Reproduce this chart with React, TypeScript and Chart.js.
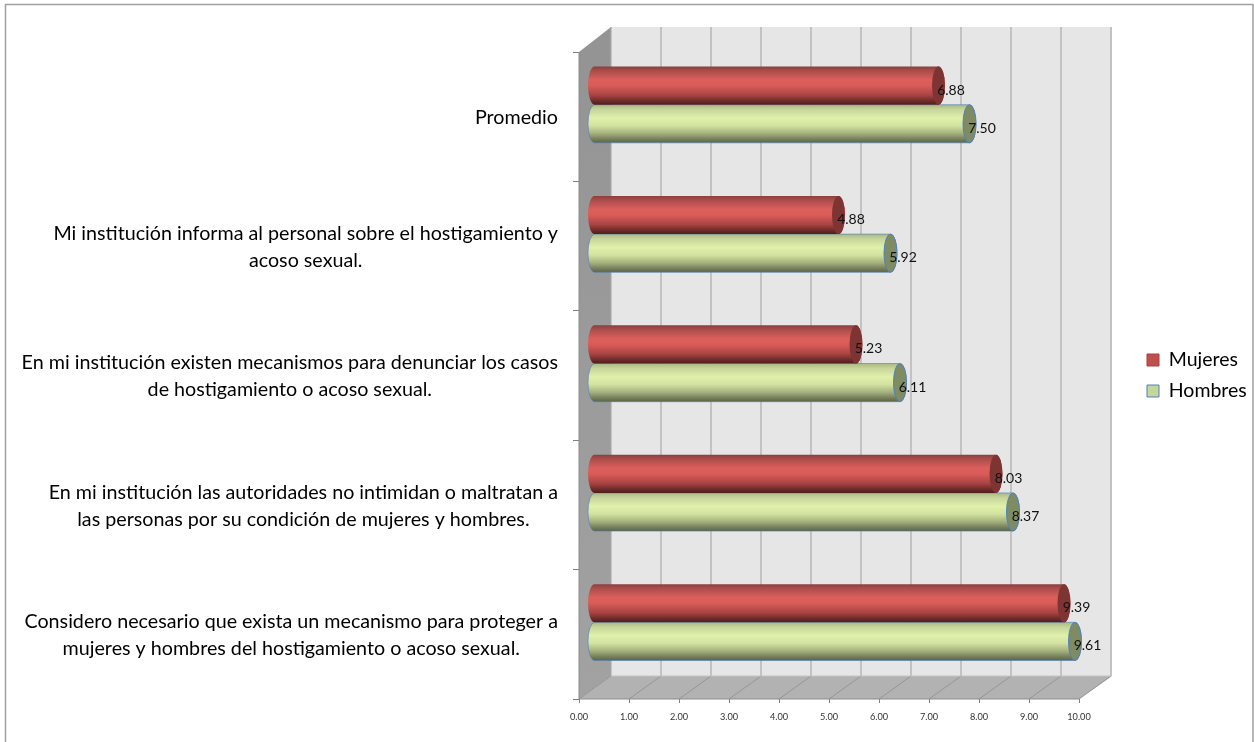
import React, { useEffect, useRef } from "react";
import { Chart, registerables, BarController, BarElement } from "chart.js";

const categories = [
  "Promedio",
  "Mi institución informa al personal sobre el hostigamiento y acoso sexual.",
  "En mi institución existen mecanismos para denunciar los casos de hostigamiento o acoso sexual.",
  "En mi institución las autoridades no intimidan o maltratan a las personas por su condición de mujeres y hombres.",
  "Considero necesario que exista un mecanismo para proteger a mujeres y hombres del hostigamiento o acoso sexual.",
];
const categoryLines = [
  ["Promedio"],
  ["Mi institución informa al personal sobre el hostigamiento y", "acoso sexual."],
  ["En mi institución existen mecanismos para denunciar los casos", "de hostigamiento o acoso sexual."],
  ["En mi institución las autoridades no intimidan o maltratan a", "las personas por su condición de mujeres y hombres."],
  ["Considero necesario que exista un mecanismo para proteger a", "mujeres y hombres del hostigamiento o acoso sexual."],
];
const mujeres = [6.88, 4.88, 5.23, 8.03, 9.39];
const hombres = [7.5, 5.92, 6.11, 8.37, 9.61];
const xTicks = [0, 10];

const FONT = "Lato, Carlito, sans-serif";
const DEPTH_X = 32;
const DEPTH_TOP = 25;
const DEPTH_BOTTOM = 23;
const MID_X = 15.5;
const MID_Y = 12;
const CAP_RX = 6.5;

const RED_STOPS: [number, string][] = [
  [0, "#8a3f3d"], [0.1, "#a84c4a"], [0.35, "#dc5f5c"], [0.5, "#d95c59"],
  [0.75, "#a84442"], [0.9, "#6e2b2a"], [1, "#4f1e1d"],
];
const GREEN_STOPS: [number, string][] = [
  [0, "#a9b783"], [0.12, "#c6d49a"], [0.35, "#e0f1ab"], [0.55, "#d2e2a0"],
  [0.75, "#a5b27e"], [0.9, "#76805c"], [1, "#5a6546"],
];

class CylinderBar extends BarElement {
  static id = "cylinderBar";
  draw(ctx: CanvasRenderingContext2D) {
    const { x, y, base, height } = (this as any).getProps(["x", "y", "base", "height"]);
    const isRed = (this as any).options.backgroundColor === "#c0504d";
    const stops = isRed ? RED_STOPS : GREEN_STOPS;
    const cy = y - MID_Y;
    const top = cy - height / 2;
    const bottom = cy + height / 2;
    const x0 = base + MID_X - 0.5;
    const x1 = x + MID_X;
    const g = ctx.createLinearGradient(0, top, 0, bottom);
    stops.forEach(([o, c]) => g.addColorStop(o, c));
    ctx.save();
    ctx.beginPath();
    ctx.moveTo(x0, top);
    ctx.lineTo(x1, top);
    ctx.ellipse(x1, cy, CAP_RX, height / 2, 0, -Math.PI / 2, Math.PI / 2);
    ctx.lineTo(x0, bottom);
    ctx.ellipse(x0, cy, CAP_RX, height / 2, 0, Math.PI / 2, (3 * Math.PI) / 2);
    ctx.closePath();
    ctx.fillStyle = g;
    ctx.fill();
    if (!isRed) {
      ctx.strokeStyle = "rgba(79,129,189,0.6)";
      ctx.lineWidth = 1;
      ctx.stroke();
    }
    ctx.beginPath();
    ctx.ellipse(x1, cy, CAP_RX, height / 2, 0, 0, Math.PI * 2);
    ctx.fillStyle = isRed ? "#7e3432" : "#7f8b63";
    ctx.fill();
    if (!isRed) {
      ctx.strokeStyle = "#4f81bd";
      ctx.lineWidth = 1;
      ctx.stroke();
    }
    ctx.restore();
  }
}

class CylinderController extends BarController {
  static id = "cylinder";
  static defaults = { dataElementType: "cylinderBar" };
}

Chart.register(...registerables, CylinderBar as any, CylinderController as any);

const scene = {
  id: "scene",
  beforeDraw(chart: any) {
    const { ctx, width, height } = chart;
    ctx.save();
    ctx.fillStyle = "#ffffff";
    ctx.fillRect(0, 0, width, height);
    ctx.strokeStyle = "#a0a0a0";
    ctx.lineWidth = 1.5;
    ctx.beginPath();
    ctx.moveTo(5.5, height);
    ctx.lineTo(5.5, 4.5);
    ctx.lineTo(1253, 4.5);
    ctx.lineTo(1253, height);
    ctx.stroke();
    ctx.restore();
  },
  beforeDatasetsDraw(chart: any) {
    const { ctx, chartArea, scales } = chart;
    const { left, right, top, bottom } = chartArea;
    const sx = scales.x;
    ctx.save();
    // back wall
    ctx.fillStyle = "#e6e6e6";
    ctx.fillRect(left + DEPTH_X, top - DEPTH_TOP, right - left + 1, bottom - top + DEPTH_TOP - DEPTH_BOTTOM);
    // left wall
    ctx.beginPath();
    ctx.moveTo(left, top);
    ctx.lineTo(left + DEPTH_X, top - DEPTH_TOP);
    ctx.lineTo(left + DEPTH_X, bottom - DEPTH_BOTTOM);
    ctx.lineTo(left, bottom);
    ctx.closePath();
    const wall = ctx.createLinearGradient(0, top, 0, bottom);
    wall.addColorStop(0, "#949494");
    wall.addColorStop(1, "#a2a2a2");
    ctx.fillStyle = wall;
    ctx.fill();
    // floor
    ctx.beginPath();
    ctx.moveTo(left, bottom);
    ctx.lineTo(left + DEPTH_X, bottom - DEPTH_BOTTOM);
    ctx.lineTo(right + DEPTH_X + 1, bottom - DEPTH_BOTTOM);
    ctx.lineTo(right, bottom);
    ctx.closePath();
    ctx.fillStyle = "#b2b2b2";
    ctx.fill();
    // grid on back wall and floor
    sx.ticks.forEach((t: any) => {
      const px = sx.getPixelForValue(t.value);
      ctx.lineWidth = 1;
      ctx.strokeStyle = "#969696";
      ctx.beginPath();
      ctx.moveTo(px, bottom);
      ctx.lineTo(px + DEPTH_X, bottom - DEPTH_BOTTOM);
      ctx.stroke();
      ctx.lineWidth = 1.2;
      ctx.strokeStyle = "#ababab";
      ctx.beginPath();
      ctx.moveTo(px + DEPTH_X, bottom - DEPTH_BOTTOM);
      ctx.lineTo(px + DEPTH_X, top - DEPTH_TOP);
      ctx.stroke();
    });
    ctx.strokeStyle = "#c4c4c4";
    ctx.lineWidth = 1;
    ctx.beginPath();
    ctx.moveTo(left + DEPTH_X, bottom - DEPTH_BOTTOM);
    ctx.lineTo(right + DEPTH_X, bottom - DEPTH_BOTTOM);
    ctx.stroke();
    ctx.strokeStyle = "#8c8c8c";
    ctx.beginPath();
    ctx.moveTo(left, top);
    ctx.lineTo(left, bottom);
    ctx.lineTo(right, bottom);
    ctx.stroke();
    ctx.restore();
  },
  afterDatasetsDraw(chart: any) {
    const { ctx } = chart;
    ctx.save();
    ctx.font = `14px ${FONT}`;
    ctx.fillStyle = "#111111";
    ctx.textAlign = "center";
    ctx.textBaseline = "middle";
    chart.data.datasets.forEach((ds: any, i: number) => {
      chart.getDatasetMeta(i).data.forEach((el: any, j: number) => {
        ctx.fillText(ds.data[j].toFixed(2), el.x + MID_X + 12.5, el.y - MID_Y + 4.5);
      });
    });
    const sy = chart.scales.y;
    ctx.font = `19.7px ${FONT}`;
    ctx.fillStyle = "#000000";
    categoryLines.forEach((lines, i) => {
      const yc = sy.getPixelForValue(i) + 1;
      const w = Math.max(...lines.map((l) => ctx.measureText(l).width));
      lines.forEach((l, k) => {
        ctx.fillText(l, 558 - w / 2, yc + (k - (lines.length - 1) / 2) * 27);
      });
    });
    ctx.restore();
  },
};

export default function App() {
  const ref = useRef<HTMLCanvasElement>(null);
  useEffect(() => {
    const chart = new Chart(ref.current as HTMLCanvasElement, {
      type: "cylinder" as any,
      data: {
        labels: categories,
        datasets: [
          { label: "Mujeres", data: mujeres, backgroundColor: "#c0504d", borderColor: "#a5423f", borderWidth: 1, categoryPercentage: 0.59, barPercentage: 1, clip: false },
          { label: "Hombres", data: hombres, backgroundColor: "#c3d69b", borderColor: "#4f81bd", borderWidth: 1, categoryPercentage: 0.59, barPercentage: 1, clip: false },
        ] as any,
      },
      options: {
        indexAxis: "y",
        responsive: false,
        animation: false,
        layout: { padding: { top: 52, left: 0, right: -1.5, bottom: 0 } },
        scales: {
          x: {
            type: "linear",
            min: xTicks[0],
            max: xTicks[1],
            position: "bottom",
            grid: { drawOnChartArea: false, drawTicks: true, tickLength: 4, color: "#808080" },
            border: { display: false },
            ticks: { stepSize: 1, maxRotation: 0, autoSkip: false, padding: 9, color: "#333333", font: { family: FONT, size: 9.2 }, callback: (v: any) => Number(v).toFixed(2) },
            afterFit: (s: any) => { s.height = 43; },
          },
          y: {
            type: "category",
            position: "left",
            grid: { drawOnChartArea: false, drawTicks: true, tickLength: 6, color: "#808080" },
            border: { display: false },
            ticks: { display: false },
            afterFit: (s: any) => { s.width = 579; },
          },
          y2: {
            type: "category",
            position: "right",
            grid: { display: false },
            border: { display: false },
            ticks: { display: false },
            afterFit: (s: any) => { s.width = 56.5; },
          },
        } as any,
        plugins: {
          title: { display: false },
          tooltip: { enabled: false },
          legend: {
            display: true,
            position: "right",
            fullSize: false,
            maxWidth: 120,
            labels: { boxWidth: 12, boxHeight: 12, padding: 11.5, color: "#000000", font: { family: FONT, size: 19.5 } },
          },
        },
      } as any,
      plugins: [scene],
    });
    return () => chart.destroy();
  }, []);
  return (
    <canvas
      ref={ref}
      width={1254}
      height={742}
      style={{ position: "absolute", left: 0, top: 0, width: 1254, height: 742, display: "block" }}
    />
  );
}
